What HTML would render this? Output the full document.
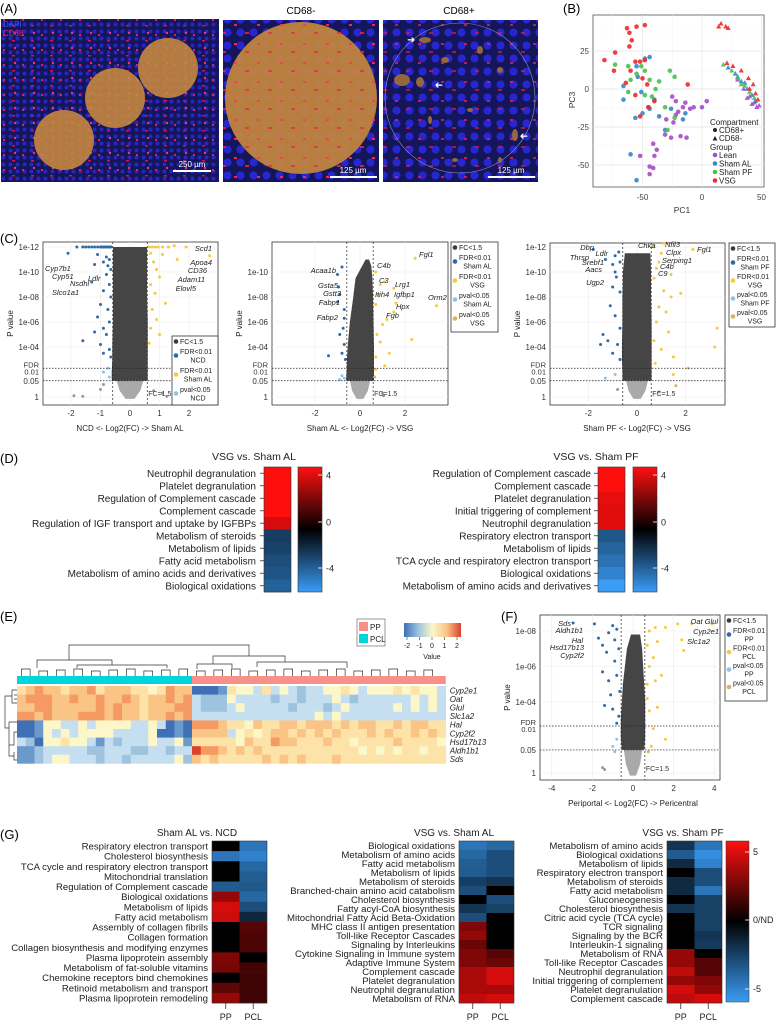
<!DOCTYPE html>
<html><head><meta charset="utf-8">
<style>
html,body{margin:0;padding:0;background:#fff;}
svg{display:block;font-family:"Liberation Sans",Arial,sans-serif;}
</style></head>
<body>
<svg id="fig" width="776" height="1023" viewBox="0 0 776 1023" xmlns="http://www.w3.org/2000/svg">
<defs>
<pattern id="nuc1" width="7" height="7" patternUnits="userSpaceOnUse"><circle cx="3.5" cy="3.5" r="2" fill="#2c2cd8"/></pattern>
<pattern id="red1" width="19" height="15" patternUnits="userSpaceOnUse"><rect x="3" y="4" width="2" height="2" fill="#e0205a"/><rect x="12" y="10" width="3" height="1.5" fill="#d01848"/><circle cx="15" cy="3" r="1.2" fill="#ff3060"/></pattern>
<pattern id="nuc2" width="13" height="13" patternUnits="userSpaceOnUse"><circle cx="6.5" cy="6.5" r="4" fill="#2a2ae6"/></pattern>
<pattern id="red2" width="23" height="19" patternUnits="userSpaceOnUse"><rect x="4" y="5" width="3" height="2" fill="#ff2050"/><rect x="15" y="13" width="4" height="2" fill="#e01848"/></pattern>
<linearGradient id="gradRB" x1="0" y1="0" x2="0" y2="1"><stop offset="0" stop-color="#ff1010"/><stop offset="0.5" stop-color="#000"/><stop offset="1" stop-color="#3a9cf5"/></linearGradient>
<linearGradient id="gradE" x1="0" y1="0" x2="1" y2="0"><stop offset="0" stop-color="#3f6fb5"/><stop offset="0.25" stop-color="#9dc3df"/><stop offset="0.5" stop-color="#fbf7c8"/><stop offset="0.75" stop-color="#fbc487"/><stop offset="1" stop-color="#d9432c"/></linearGradient>
</defs>

<!-- Panel A -->
<g>
<text x="0" y="13" font-size="13">(A)</text>
<text x="301" y="14" font-size="10" text-anchor="middle">CD68-</text>
<text x="459" y="14" font-size="10" text-anchor="middle">CD68+</text>
<g>
<rect x="1" y="19" width="218" height="163" fill="#15155a"/>
<rect x="1" y="19" width="218" height="163" fill="url(#nuc1)" opacity="0.8"/>
<rect x="1" y="19" width="218" height="163" fill="url(#red1)"/>
<circle cx="64" cy="140" r="30" fill="#c98a3c" opacity="0.88"/>
<circle cx="115" cy="98" r="30" fill="#c98a3c" opacity="0.88"/>
<circle cx="168" cy="68" r="30" fill="#c98a3c" opacity="0.88"/>
<text x="3" y="27" font-size="8" fill="#3050ff">DAPI</text>
<text x="3" y="36" font-size="8" fill="#e02070">CD68</text>
<line x1="173" y1="171" x2="211" y2="171" stroke="#fff" stroke-width="2"/>
<text x="192" y="167" font-size="8" fill="#fff" text-anchor="middle">250 µm</text>
</g>
<g>
<rect x="223" y="20" width="156" height="162" fill="#15155a"/>
<rect x="223" y="20" width="156" height="162" fill="url(#nuc2)" opacity="0.85"/>
<rect x="223" y="20" width="156" height="162" fill="url(#red2)"/>
<clipPath id="c2"><rect x="223" y="20" width="156" height="162"/></clipPath>
<circle cx="301" cy="98" r="76" fill="#c98a3c" opacity="0.9" clip-path="url(#c2)"/>
<rect x="223" y="20" width="156" height="162" fill="url(#red2)" opacity="0.6" clip-path="url(#c2)"/>
<line x1="330" y1="177" x2="377" y2="177" stroke="#fff" stroke-width="2"/>
<text x="353" y="173" font-size="8" fill="#fff" text-anchor="middle">125 µm</text>
</g>
<g>
<rect x="383" y="20" width="155" height="162" fill="#15155a"/>
<rect x="383" y="20" width="155" height="162" fill="url(#nuc2)" opacity="0.85"/>
<rect x="383" y="20" width="155" height="162" fill="url(#red2)" opacity="0.7"/>
<circle cx="460" cy="98" r="75" fill="none" stroke="#9090c0" stroke-width="0.6"/>
<g fill="#a07038" opacity="0.9">
<ellipse cx="425" cy="40" rx="6" ry="3"/><ellipse cx="402" cy="80" rx="8" ry="6"/><ellipse cx="420" cy="82" rx="4" ry="5"/><ellipse cx="445" cy="60" rx="4" ry="3"/><ellipse cx="480" cy="50" rx="3" ry="4"/><ellipse cx="500" cy="70" rx="3" ry="3"/><ellipse cx="515" cy="135" rx="3" ry="6"/><ellipse cx="470" cy="110" rx="3" ry="2"/><ellipse cx="430" cy="120" rx="2" ry="4"/><ellipse cx="455" cy="160" rx="3" ry="2"/><ellipse cx="500" cy="160" rx="2" ry="3"/>
</g>
<text x="407" y="43" font-size="10" fill="#fff">➜</text>
<text x="433" y="88" font-size="10" fill="#fff" transform="rotate(180 438 85)">➜</text>
<text x="518" y="139" font-size="10" fill="#fff" transform="rotate(180 523 136)">➜</text>
<line x1="488" y1="177" x2="535" y2="177" stroke="#fff" stroke-width="2"/>
<text x="511" y="173" font-size="8" fill="#fff" text-anchor="middle">125 µm</text>
</g>
</g>

<g id="gB"></g>
<g id="gC"></g>
<g id="gD"></g>
<g id="gE"></g>
<g id="gF"></g>
<g id="gG"></g>
</svg>

<script>
// ===================== DATA =====================
const pcaVsgPos = [[-63,40],[-55,41],[-48,42],[-61,37],[-59,32],[-61,28],[-73,24],[-82,19],[-74,12],[-56,18],[-48,19],[-60,12],[-64,4],[-46,3],[-56,-4],[-45,-12],[-12,3],[-52,-18],[-52,18],[-50,7],[-40,-8]];
const pcaVsgNeg = [[16,43],[20,41],[22,40],[14,41],[21,17],[26,15],[33,12],[39,7],[43,3],[45,-3],[47,-7],[40,0]];
const pcaShamAlPos = [[-48,20],[-44,21],[-55,15],[-54,8],[-66,2],[-66,-7],[-51,-2],[-45,-12],[-44,-13],[-50,-16],[-56,-19],[-14,-16],[-16,-20],[-26,-13],[-31,-27],[-60,-43],[-55,-60],[-40,-7],[-36,-18]];
const pcaShamAlNeg = [[22,14],[28,10],[33,5],[38,0],[42,-4],[45,-8],[30,8],[36,4]];
const pcaShamPfPos = [[-73,16],[-62,15],[-51,15],[-48,12],[-44,6],[-60,6],[-62,-2],[-48,-4],[-36,5],[-27,12],[-23,8],[-39,0],[-31,-12],[-29,-27],[-23,-19],[-55,10],[-42,-5]];
const pcaShamPfNeg = [[18,16],[25,12],[30,7],[36,2],[40,-2],[44,-6],[33,3]];
const pcaLeanPos = [[-25,-5],[-22,-8],[-14,-9],[-7,-12],[0,-12],[4,-8],[-16,-12],[-10,-13],[-20,-15],[-31,-30],[-26,-32],[-18,-31],[-13,-32],[-41,-36],[-38,-40],[-40,-44],[-44,-51],[-41,-52],[-44,-56],[-52,-44],[-22,-17],[-30,-20],[-24,-22]];
const pcaLeanNeg = [[30,6],[35,0],[40,-5],[44,-9],[46,-12],[48,-11],[42,-10],[38,-6]];

const c1Blue = [[-1.8,12],[-1.6,12],[-1.5,12],[-1.4,12],[-1.3,12],[-1.2,12],[-1.1,12],[-1.0,12],[-0.95,12],[-0.9,12],[-0.85,12],[-0.8,12],[-0.75,12],[-0.7,12],[-0.65,12],[-2.1,11.5],[-1.1,11.4],[-0.8,11.2],[-0.7,11],[-0.9,10.8],[-0.75,10.5],[-1.2,10.6],[-0.65,10.2],[-0.8,9.8],[-1.3,9.2],[-0.7,9],[-0.9,8.5],[-0.65,8],[-1.0,7.4],[-0.75,7],[-1.1,6.4],[-0.7,6],[-0.9,5.5],[-1.6,4.5],[-0.8,5],[-1.0,4.2],[-0.7,3.8],[-0.65,3.2],[-1.2,5.2],[-0.9,3.5]];
const c1Yellow = [[0.65,12],[0.75,12],[0.85,12],[0.95,12],[1.1,12],[1.3,12],[1.5,12.1],[1.9,12],[0.7,11.5],[1.1,11.4],[2.7,11.3],[1.6,11],[0.8,10.8],[0.9,10.2],[1.0,9.6],[0.7,9],[0.85,8.3],[1.2,7.5],[0.75,7],[0.9,6.2],[0.7,5.5],[1.0,5],[0.65,4.3]];
const c1LBlue = [[-0.9,2],[-0.7,1.6],[-0.75,2.3]];
const c1Tan = [];
const c1Gray = [[-1.9,0.1],[-1.6,0.05],[-1.0,0.6],[-0.9,1.0],[0.8,0.5],[1.1,0.3],[1.25,0.05]];
const c1EnvLevels = [1.3,2,3,4,6,8,10,12];
const c1EnvLeft = [-0.62,-0.62,-0.6,-0.6,-0.58,-0.58,-0.58,-0.58];
const c1EnvRight = [0.6,0.6,0.6,0.6,0.6,0.58,0.58,0.58];

const c2Blue = [[-1.0,9.8],[-0.95,8.8],[-0.8,10.4],[-0.9,8.2],[-1.0,7.6],[-0.7,7],[-0.75,5.5],[-0.9,5],[-0.7,4.2],[-0.8,3.5],[-1.4,3.3],[-0.65,3],[-0.7,6.3]];
const c2Yellow = [[2.45,11.1],[0.7,10],[0.9,9],[1.1,9.2],[1.5,8.7],[1.6,7.5],[3.4,7.3],[1.5,6.8],[1.0,5.8],[0.8,8.2],[0.7,7.4],[1.2,6.2],[0.75,5],[0.9,4.4],[2.3,4.6],[1.3,3.5],[0.7,3.2],[1.1,2.5],[0.7,2.2]];
const c2LBlue = [[-0.8,1.7],[-0.7,1.5],[-0.9,1.4]];
const c2Tan = [[0.65,1.6]];
const c2Gray = [[1.0,0.3],[1.05,0.1]];
const c2EnvLevels = [1.3,2,3,4,6,8,9.5,10.5,11];
const c2EnvLeft = [-0.62,-0.6,-0.58,-0.55,-0.45,-0.3,-0.2,0.1,0.25];
const c2EnvRight = [0.62,0.62,0.62,0.62,0.6,0.58,0.55,0.5,0.4];

const c3Blue = [[-1.8,11.8],[-1.3,11],[-0.9,11.3],[-1.0,10.6],[-0.9,10],[-1.0,8.8],[-0.75,11.6],[-0.7,10.8],[-0.85,9.6],[-0.7,8.4],[-1.4,5],[-1.2,4.5],[-0.8,4.2],[-1.0,3.5],[-0.7,3],[-1.1,7.3],[-0.9,6.5],[-0.7,5.5],[-1.5,4.2]];
const c3Yellow = [[2.3,11.8],[1.1,12.3],[0.7,12],[1.0,11.5],[0.9,10.8],[0.8,10.3],[0.7,9.5],[1.4,9.8],[3.3,5.5],[3.2,4],[2.1,2.3],[1.5,1.8],[1.1,8.5],[1.4,8],[1.8,8.3],[0.9,7.2],[1.2,6.8],[0.8,6],[1.3,5.2],[0.7,4.5],[1.0,3.8],[1.5,3.2],[0.75,2.7]];
const c3LBlue = [[-1.3,1.5],[-0.9,1.8]];
const c3Tan = [[1.6,0.9]];
const c3Gray = [[-0.8,0.6],[0.9,0.4]];
const c3EnvLevels = [1.3,2,3,4,6,8,10,11.5];
const c3EnvLeft = [-0.6,-0.6,-0.62,-0.62,-0.6,-0.6,-0.58,-0.5];
const c3EnvRight = [0.6,0.6,0.6,0.6,0.6,0.58,0.58,0.55];

const dLabels1 = ["Neutrophil degranulation","Platelet degranulation","Regulation of Complement cascade","Complement cascade","Regulation of IGF transport and uptake by IGFBPs","Metabolism of steroids","Metabolism of lipids","Fatty acid metabolism","Metabolism of amino acids and derivatives","Biological oxidations"];
const dValues1 = [5,5,5,5,4.2,-2,-2.1,-2.5,-2.7,-3.1];
const dLabels2 = ["Regulation of Complement cascade","Complement cascade","Platelet degranulation","Initial triggering of complement","Neutrophil degranulation","Respiratory electron transport","Metabolism of lipids","TCA cycle and respiratory electron transport","Biological oxidations","Metabolism of amino acids and derivatives"];
const dValues2 = [5,5,4.5,4.4,4.4,-2.8,-3.2,-3.7,-4.2,-5];

const eGenes = ["Cyp2e1","Oat","Glul","Slc1a2","Hal","Cyp2f2","Hsd17b13","Aldh1b1","Sds"];
const eRowsPCL = ["56766566756665545766","67776676676676566767","66776666676766566677","77676667776766566767","00144334344443343010","00143434444333340010","32044544313233343341","11233333223332233233","11234433323323333342"];
const eRowsPP = ["00015443534323344543444545443","32224333323323334323333334343","32223433333233323433333434343","33333333333333434333333333333","77765546556656665656655656655","66663454566565656555656556565","55555465576655565545555655554","87765656555555555554545455455","65655555656565556555555555555"];

const fBlue = [[-2.95,8.45],[-1.9,8.4],[-1.7,7.6],[-1.5,7.2],[-1.3,6.8],[-1.0,8.3],[-0.8,8.1],[-1.2,7.9],[-0.9,7.5],[-0.7,7],[-0.9,6.3],[-1.5,5.7],[-1.2,5.2],[-0.8,5.5],[-1.4,3.8],[-1.0,3.6],[-0.7,3.2],[-0.8,2.8],[-1.1,4.4],[-0.65,4.6]];
const fYellow = [[3.9,8.4],[2.9,8.4],[2.2,8.4],[1.6,8.2],[1.1,8.2],[0.8,8],[2.4,7.5],[2.5,6.9],[1.2,7.4],[0.7,7.2],[1.0,6.5],[0.8,6],[1.4,5.5],[1.1,5.2],[0.7,5],[1.2,3.7],[0.8,3.5],[1.0,2.5],[1.6,1.9],[0.9,1.5],[0.7,4.2]];
const fLBlue = [[-0.8,1.9],[-1.0,1.5],[-0.9,1.2]];
const fTan = [[0.75,1.2]];
const fGray = [[-1.5,0.3],[-1.4,0.2]];
const fEnvLevels = [1.3,2,3,4,5,6,7,7.8];
const fEnvLeft = [-0.55,-0.6,-0.6,-0.55,-0.5,-0.4,-0.3,-0.1];
const fEnvRight = [0.55,0.6,0.6,0.6,0.55,0.5,0.45,0.35];

const g1Labels = ["Respiratory electron transport","Cholesterol biosynthesis","TCA cycle and respiratory electron transport","Mitochondrial translation","Regulation of Complement cascade","Biological oxidations","Metabolism of lipids","Fatty acid metabolism","Assembly of collagen fibrils","Collagen formation","Collagen biosynthesis and modifying enzymes","Plasma lipoprotein assembly","Metabolism of fat-soluble vitamins","Chemokine receptors bind chemokines","Retinoid metabolism and transport","Plasma lipoprotein remodeling"];
const g1PP = [0,-4.5,0,0,-3.5,3.5,5,4.8,0,0,0,3,2.8,0,2.2,3.5];
const g1PCL = [-4.5,-5,-4,-3.6,-3.4,-4,-3,-1.5,2,1.8,1.8,0,1.6,1.5,1.5,1.5];
const g2Labels = ["Biological oxidations","Metabolism of amino acids","Fatty acid metabolism","Metabolism of lipids","Metabolism of steroids","Branched-chain amino acid catabolism","Cholesterol biosynthesis","Fatty acyl-CoA biosynthesis","Mitochondrial Fatty Acid Beta-Oxidation","MHC class II antigen presentation","Toll-like Receptor Cascades","Signaling by Interleukins","Cytokine Signaling in Immune system","Adaptive Immune System","Complement cascade","Platelet degranulation","Neutrophil degranulation","Metabolism of RNA"];
const g2PP = [-4.5,-4,-3.6,-3.5,-2.4,-3,0,-2,-3,3,3.5,2.5,3,3,4,4,4,4.5];
const g2PCL = [-4,-3,-3,-3,-2,0,-3,-2.5,0,0,0,0,2,2.5,5,5,4,5];
const g3Labels = ["Metabolism of amino acids","Biological oxidations","Metabolism of lipids","Respiratory electron transport","Metabolism of steroids","Fatty acid metabolism","Gluconeogenesis","Cholesterol biosynthesis","Citric acid cycle (TCA cycle)","TCR signaling","Signaling by the BCR","Interleukin-1 signaling","Metabolism of RNA","Toll-like Receptor Cascades","Neutrophil degranulation","Initial triggering of complement","Platelet degranulation","Complement cascade"];
const g3PP = [-2,-3.5,-1.6,0,-1.6,-1.6,0,-2,0,0,0,0,3.5,3.5,4.5,3.5,5,4.5];
const g3PCL = [-4.5,-5.5,-5,-3,-3,-4.5,-2.5,-2.5,-2.5,-2.5,-2,-2.2,0,2,2,3,3.5,5];

// ===================== HELPERS =====================
const NS = 'http://www.w3.org/2000/svg';
function mk(parent, tag, attrs, name) {
  const el = document.createElementNS(NS, tag);
  for (const k in attrs) el.setAttribute(k, attrs[k]);
  
  
  parent.appendChild(el);
  return el;
}
function txt(parent, x, y, s, size, name, extra) {
  const a = Object.assign({x: x, y: y, 'font-size': size}, extra || {});
  const el = mk(parent, 'text', a, name);
  el.textContent = s;
  return el;
}
function rbColor(v, max) {
  const t = Math.max(-1, Math.min(1, v / max));
  if (t >= 0) return `rgb(${Math.round(255*t)},${Math.round(14*t)},${Math.round(14*t)})`;
  const u = -t;
  return `rgb(${Math.round(58*u)},${Math.round(156*u)},${Math.round(245*u)})`;
}

// ===================== PANEL B =====================
(function(){
  const g = document.getElementById('gB');
  const X = v => 702 + 1.19 * v, Y = v => 89 - 1.52 * v;
  txt(g, 563, 13, '(B)', 13, 'panel-b-label');
  mk(g, 'rect', {x:593, y:15, width:171, height:172, fill:'#fff', stroke:'#555', 'stroke-width':0.8}, 'pca-frame');
  const xt = [-50, 0, 50], yt = [25, 0, -25, -50];
  [-75,-25,25].forEach(v => mk(g,'line',{x1:X(v),x2:X(v),y1:15,y2:187,stroke:'#f2f2f2','stroke-width':0.5},'minor-grid-x'));
  [37.5,12.5,-12.5,-37.5].forEach(v => mk(g,'line',{x1:593,x2:764,y1:Y(v),y2:Y(v),stroke:'#f2f2f2','stroke-width':0.5},'minor-grid-y'));
  xt.forEach(v => { mk(g,'line',{x1:X(v),x2:X(v),y1:15,y2:187,stroke:'#e4e4e4','stroke-width':0.7},'grid-x');
    txt(g, X(v), 200, String(v), 8, 'x-tick-label', {'text-anchor':'middle', fill:'#444'}); });
  yt.forEach(v => { mk(g,'line',{x1:593,x2:764,y1:Y(v),y2:Y(v),stroke:'#e4e4e4','stroke-width':0.7},'grid-y');
    txt(g, 589, Y(v)+3, String(v), 8, 'y-tick-label', {'text-anchor':'end', fill:'#444'}); });
  txt(g, 682, 213, 'PC1', 8.5, 'x-axis-title', {'text-anchor':'middle', fill:'#333'});
  txt(g, 575, 100, 'PC3', 8.5, 'y-axis-title', {'text-anchor':'middle', fill:'#333', transform:'rotate(-90 575 100)'});
  const cols = {lean:'#a64dc8', al:'#3a86c8', pf:'#4bbf4b', vsg:'#ee2a2a'};
  function circ(arr, c, nm){ arr.forEach(p => mk(g,'circle',{cx:X(p[0]),cy:Y(p[1]),r:2.3,fill:c,opacity:0.9},nm)); }
  function tri(arr, c, nm){ arr.forEach(p => { const x=X(p[0]), y=Y(p[1]);
    mk(g,'polygon',{points:`${x},${y-2.8} ${x-2.6},${y+1.8} ${x+2.6},${y+1.8}`,fill:c,opacity:0.9},nm); }); }
  circ(pcaLeanPos, cols.lean, 'point-lean-cd68pos'); tri(pcaLeanNeg, cols.lean, 'point-lean-cd68neg');
  circ(pcaShamAlPos, cols.al, 'point-shamal-cd68pos'); tri(pcaShamAlNeg, cols.al, 'point-shamal-cd68neg');
  circ(pcaShamPfPos, cols.pf, 'point-shampf-cd68pos'); tri(pcaShamPfNeg, cols.pf, 'point-shampf-cd68neg');
  circ(pcaVsgPos, cols.vsg, 'point-vsg-cd68pos'); tri(pcaVsgNeg, cols.vsg, 'point-vsg-cd68neg');
  txt(g, 710, 125, 'Compartment', 8, 'legend-title-compartment', {fill:'#222'});
  mk(g,'circle',{cx:715,cy:130,r:2,fill:'#222'},'legend-symbol-circle');
  txt(g, 719, 133, 'CD68+', 8, 'legend-entry-cd68pos', {fill:'#222'});
  mk(g,'polygon',{points:'715,136 712.6,140.5 717.4,140.5',fill:'#222'},'legend-symbol-triangle');
  txt(g, 719, 141, 'CD68-', 8, 'legend-entry-cd68neg', {fill:'#222'});
  txt(g, 710, 150, 'Group', 8, 'legend-title-group', {fill:'#222'});
  [['Lean',cols.lean,158],['Sham AL',cols.al,166.5],['Sham PF',cols.pf,175],['VSG',cols.vsg,183.5]].forEach(e => {
    mk(g,'circle',{cx:715,cy:e[2]-3,r:2.3,fill:e[1]},'legend-swatch');
    txt(g, 719, e[2], e[0], 8, 'legend-entry-group', {fill:'#222'});
  });
})();

// ===================== VOLCANO =====================
function volcano(g, o) {
  const X = v => o.x0 + o.kx * v, Y = v => o.y0 - o.ky * v;
  mk(g,'rect',{x:o.fx, y:o.fy, width:o.fw, height:o.fh, fill:'#fff', stroke:'#333', 'stroke-width':0.8}, o.id+'-frame');
  o.xticks.forEach(v => { mk(g,'line',{x1:X(v),x2:X(v),y1:o.fy,y2:o.fy+o.fh,stroke:'#ebebeb','stroke-width':0.6},'grid-x');
    txt(g, X(v), o.fy+o.fh+11, String(v), 8, 'x-tick-label', {'text-anchor':'middle', fill:'#333'}); });
  o.yticks.forEach((t,i) => { const v = o.ytickVals[i];
    mk(g,'line',{x1:o.fx,x2:o.fx+o.fw,y1:Y(v),y2:Y(v),stroke:'#ebebeb','stroke-width':0.6},'grid-y');
    txt(g, o.fx-4, Y(v)+3, t, 8, 'y-tick-label', {'text-anchor':'end', fill:'#333'}); });
  txt(g, o.fx-4, Y(o.fdr)-1, 'FDR', 7.5, 'y-tick-fdr', {'text-anchor':'end', fill:'#333'});
  txt(g, o.fx-4, Y(o.fdr)+6, '0.01', 7.5, 'y-tick-001', {'text-anchor':'end', fill:'#333'});
  mk(g,'path',{d:`M${X(-0.45)},${Y(1.3)} L${X(-0.35)},${Y(0.5)} L${X(-0.15)},${Y(-0.15)} L${X(0.15)},${Y(-0.15)} L${X(0.35)},${Y(0.5)} L${X(0.45)},${Y(1.3)} Z`, fill:'#a9a9a9'}, o.id+'-nonsig-cloud');
  let d = '';
  o.lev.forEach((l,i) => { d += (i ? 'L' : 'M') + X(o.left[i]) + ',' + Y(l) + ' '; });
  for (let i = o.lev.length - 1; i >= 0; i--) d += 'L' + X(o.right[i]) + ',' + Y(o.lev[i]) + ' ';
  mk(g,'path',{d: d + 'Z', fill:'#454545'}, o.id+'-fc-cloud');
  const pts = (arr, c, nm) => arr.forEach(p => mk(g,'circle',{cx:X(p[0]),cy:Y(p[1]),r:1.5,fill:c},nm));
  pts(o.gray,'#9a9a9a','point-nonsig'); pts(o.lblue,'#8cc3ea','point-pval-down'); pts(o.tan,'#d8b45a','point-pval-up');
  pts(o.blue,'#2e6aa8','point-fdr-down'); pts(o.yellow,'#f7c93c','point-fdr-up');
  mk(g,'line',{x1:X(-0.585),x2:X(-0.585),y1:o.fy,y2:o.fy+o.fh,stroke:'#222','stroke-width':0.7,'stroke-dasharray':'2,2'},'fc-threshold-left');
  mk(g,'line',{x1:X(0.585),x2:X(0.585),y1:o.fy,y2:o.fy+o.fh,stroke:'#222','stroke-width':0.7,'stroke-dasharray':'2,2'},'fc-threshold-right');
  mk(g,'line',{x1:o.fx,x2:o.fx+o.fw,y1:Y(o.fdr),y2:Y(o.fdr),stroke:'#222','stroke-width':0.7,'stroke-dasharray':'1.5,1.5'},'fdr-threshold');
  mk(g,'line',{x1:o.fx,x2:o.fx+o.fw,y1:Y(1.3),y2:Y(1.3),stroke:'#222','stroke-width':0.7,'stroke-dasharray':'1.5,1.5'},'pval-threshold');
  txt(g, X(0.585)+1, Y(0.1), 'FC=1.5', 7, 'fc-annotation', {fill:'#333'});
  txt(g, X(0), o.fy+o.fh+26, o.xtitle, 8, 'x-axis-title', {'text-anchor':'middle', fill:'#222'});
  txt(g, o.fx-30, o.fy+o.fh/2, 'P value', 8, 'y-axis-title', {'text-anchor':'middle', fill:'#222', transform:`rotate(-90 ${o.fx-30} ${o.fy+o.fh/2})`});
  o.labels.forEach(l => txt(g, l[0], l[1], l[2], 7.5, 'gene-label', {'font-style':'italic', fill:'#222', 'text-anchor': l[3] || 'start'}));
  const L = o.leg;
  mk(g,'rect',{x:L.x, y:L.y, width:L.w, height:L.h, fill:'#fff', stroke:'#333', 'stroke-width':0.8}, 'legend-box');
  const entries = [['#3c3c3c',['FC<1.5']],['#2e6aa8',['FDR<0.01',L.a]],['#f7c93c',['FDR<0.01',L.b]],['#8cc3ea',['pval<0.05',L.a]],['#d8b45a',['pval<0.05',L.b]]].slice(0, L.n);
  let yy = L.y + 8;
  entries.forEach((e,i) => {
    const lines = e[1];
    mk(g,'circle',{cx:L.x+4, cy:yy + (lines.length-1)*4 - 2.5, r:2.3, fill:e[0]}, 'legend-swatch');
    lines.forEach((s,j) => txt(g, j ? L.x+L.w/2+3 : L.x+8, yy + j*8.5, s, 7, 'legend-entry', {fill:'#222', 'text-anchor': j ? 'middle' : 'start'}));
    yy += i === 0 ? 10 : L.step;
  });
}

(function(){
  const g = document.getElementById('gC');
  txt(g, 0, 243, '(C)', 13, 'panel-c-label');
  const yL = ['1e-12','1e-10','1e-08','1e-06','1e-04','0.05','1'], yV = [12,10,8,6,4,1.3,0];
  volcano(g, {id:'volcano-shamal-ncd', fx:43, fy:242, fw:175, fh:163, x0:130, kx:29.5, y0:397, ky:12.5,
    xticks:[-2,-1,0,1,2], yticks:yL, ytickVals:yV, fdr:2.3, xtitle:'NCD <- Log2(FC) -> Sham AL',
    blue:c1Blue, yellow:c1Yellow, lblue:c1LBlue, tan:c1Tan, gray:c1Gray, lev:c1EnvLevels, left:c1EnvLeft, right:c1EnvRight,
    labels:[[212,251,'Scd1','end'],[212,265,'Apoa4','end'],[207,273,'CD36','end'],[205,282,'Adam11','end'],[196,291,'Elovl5','end'],[45,271,'Cyp7b1'],[52,279,'Cyp51'],[70,286,'Nsdhl'],[88,281,'Ldlr'],[52,295,'Slco1a1']],
    leg:{x:172, y:336, w:46, h:69, a:'NCD', b:'Sham AL', n:4, step:19}});
  volcano(g, {id:'volcano-vsg-shamal', fx:272, fy:242, fw:176, fh:163, x0:360, kx:22.5, y0:397, ky:12.5,
    xticks:[-2,0,2], yticks:['1e-10','1e-08','1e-06','1e-04','0.05','1'], ytickVals:[10,8,6,4,1.3,0], fdr:2.3, xtitle:'Sham AL <- Log2(FC) -> VSG',
    blue:c2Blue, yellow:c2Yellow, lblue:c2LBlue, tan:c2Tan, gray:c2Gray, lev:c2EnvLevels, left:c2EnvLeft, right:c2EnvRight,
    labels:[[419,257,'Fgl1'],[377,268,'C4b'],[336,273,'Acaa1b','end'],[379,283,'C3'],[395,287,'Lrg1'],[338,288,'Gsta5','end'],[341,296,'Gstt3','end'],[375,297,'Itih4'],[394,297,'Igfbp1'],[428,300,'Orm2'],[340,305,'Fabp1','end'],[396,309,'Hpx'],[386,318,'Fgb'],[338,320,'Fabp2','end']],
    leg:{x:451, y:242, w:47, h:90, a:'Sham AL', b:'VSG', n:5, step:19}});
  volcano(g, {id:'volcano-vsg-shampf', fx:550, fy:243, fw:175, fh:162, x0:637, kx:24.3, y0:397, ky:12.5,
    xticks:[-2,0,2], yticks:yL, ytickVals:yV, fdr:2.3, xtitle:'Sham PF <- Log2(FC) -> VSG',
    blue:c3Blue, yellow:c3Yellow, lblue:c3LBlue, tan:c3Tan, gray:c3Gray, lev:c3EnvLevels, left:c3EnvLeft, right:c3EnvRight,
    labels:[[594,250,'Dbp','end'],[589,260,'Thrsp','end'],[608,256,'Ldlr','end'],[604,265,'Srebf1','end'],[602,272,'Aacs','end'],[604,285,'Ugp2','end'],[638,248,'Chka'],[665,247,'Nfil3'],[666,255,'Clpx'],[662,263,'Serping1'],[697,252,'Fgl1'],[660,269,'C4b'],[658,276,'C9']],
    leg:{x:729, y:243, w:46, h:84, a:'Sham PF', b:'VSG', n:5, step:18}});
})();

// ===================== PANEL D =====================
(function(){
  const g = document.getElementById('gD');
  txt(g, 0, 463, '(D)', 13, 'panel-d-label');
  function block(labels, vals, hx, cbx, lx, title, tx, id){
    txt(g, tx, 460, title, 10.5, id+'-title', {'text-anchor':'middle', fill:'#222'});
    const y0 = 467, rh = 12.5;
    labels.forEach((l,i) => {
      mk(g,'rect',{x:hx, y:y0+i*rh, width:27, height:rh+0.3, fill:rbColor(vals[i],5)}, id+'-cell');
      mk(g,'line',{x1:hx-4,x2:hx,y1:y0+i*rh+rh/2,y2:y0+i*rh+rh/2,stroke:'#333','stroke-width':0.8},'row-tick');
      txt(g, lx, y0+i*rh+rh/2+3.5, l, 10, id+'-row-label', {'text-anchor':'end', fill:'#222'});
    });
    mk(g,'rect',{x:hx, y:y0, width:27, height:rh*10, fill:'none', stroke:'#333','stroke-width':0.6}, id+'-border');
    mk(g,'rect',{x:cbx, y:y0, width:24, height:rh*10, fill:'url(#gradRB)', stroke:'#333','stroke-width':0.6}, id+'-colorbar');
    [[4,475],[0,522],[-4,568]].forEach(t => {
      mk(g,'line',{x1:cbx+20,x2:cbx+24,y1:t[1],y2:t[1],stroke:'#fff','stroke-width':0.8},'colorbar-tick');
      txt(g, cbx+28, t[1]+3.5, String(t[0]), 9, 'colorbar-label', {fill:'#222'});
    });
  }
  block(dLabels1, dValues1, 264, 298, 256, 'VSG vs. Sham AL', 254, 'heatmap-vsg-shamal');
  block(dLabels2, dValues2, 598, 633, 591, 'VSG vs. Sham PF', 596, 'heatmap-vsg-shampf');
})();

// ===================== PANEL E =====================
(function(){
  const g = document.getElementById('gE');
  txt(g, 0, 621, '(E)', 13, 'panel-e-label');
  const pal = ['#3f6fb5','#6a9acb','#9dc3df','#c6dff0','#fbf7c8','#fde3a7','#fbc487','#f59a62','#d9432c'];
  const x0 = 17, cw = 8.75, y0 = 686, rh = 8.6;
  const nP = eRowsPCL[0].length, nQ = eRowsPP[0].length;
  mk(g,'rect',{x:x0, y:676, width:nP*cw, height:8, fill:'#00d5d9'}, 'annotation-pcl');
  mk(g,'rect',{x:x0+nP*cw, y:676, width:nQ*cw, height:8, fill:'#f8908a'}, 'annotation-pp');
  eGenes.forEach((gn,r) => {
    const row = eRowsPCL[r] + eRowsPP[r];
    for (let c = 0; c < row.length; c++) {
      mk(g,'rect',{x:x0+c*cw, y:y0+r*rh, width:cw+0.3, height:rh+0.3, fill:pal[+row[c]]}, 'heatmap-cell');
    }
    txt(g, x0+(nP+nQ)*cw+4, y0+r*rh+rh/2+3, gn, 8, 'gene-row-label', {'font-style':'italic', fill:'#222'});
  });
  const st = {stroke:'#333','stroke-width':0.7, fill:'none'};
  mk(g,'path',Object.assign({d:`M${x0+52},660 V645 H${x0+232} V656`}, st), 'dendrogram-root');
  mk(g,'path',Object.assign({d:`M${x0+20},668 V660 H${x0+95} V665 M${x0+95},665 H${x0+60} V668 M${x0+95},665 H${x0+150} V668`}, st), 'dendrogram-pcl');
  mk(g,'path',Object.assign({d:`M${x0+196},664 V656 H${x0+268} V662 M${x0+196},664 H${x0+180} V669 M${x0+196},664 H${x0+215} V668 M${x0+268},662 H${x0+240} V667 M${x0+268},662 H${x0+330} V668`}, st), 'dendrogram-pp');
  for (let c = 0; c + 1 < nP + nQ; c += 2) {
    const xa = x0 + c*cw + cw/2, xb = xa + cw;
    mk(g,'path',Object.assign({d:`M${xa},676 V${669+(c%3)} H${xb} V676`}, st), 'dendrogram-leaf');
  }
  mk(g,'path',Object.assign({d:`M17,690 H12 V703 H17 M17,695 H14 M17,699 H14 M12,696 H5 V728 H9 M9,722 V745 M9,722 H17 M9,745 H14 V732 H17 M14,752 V760 H17 M14,756 H9 V745`}, st), 'row-dendrogram');
  mk(g,'rect',{x:357, y:619, width:28, height:27, fill:'#fff', stroke:'#555','stroke-width':0.6}, 'annotation-legend-box');
  mk(g,'rect',{x:359, y:622, width:9, height:9, fill:'#f8908a'}, 'legend-swatch-pp');
  txt(g, 370, 630, 'PP', 8, 'legend-entry-pp', {fill:'#222'});
  mk(g,'rect',{x:359, y:634, width:9, height:9, fill:'#00d5d9'}, 'legend-swatch-pcl');
  txt(g, 370, 642, 'PCL', 8, 'legend-entry-pcl', {fill:'#222'});
  mk(g,'rect',{x:404, y:623, width:57, height:14, fill:'url(#gradE)'}, 'value-colorbar');
  [-2,-1,0,1,2].forEach((v,i) => {
    mk(g,'line',{x1:407+i*12.5,x2:407+i*12.5,y1:637,y2:640,stroke:'#333','stroke-width':0.6},'colorbar-tick');
    txt(g, 407+i*12.5, 648, String(v), 7, 'colorbar-label', {'text-anchor':'middle', fill:'#222'});
  });
  txt(g, 432, 659, 'Value', 7, 'colorbar-title', {'text-anchor':'middle', fill:'#222'});
})();

// ===================== PANEL F =====================
(function(){
  const g = document.getElementById('gF');
  txt(g, 501, 621, '(F)', 13, 'panel-f-label');
  volcano(g, {id:'volcano-zonation', fx:540, fy:615, fw:180, fh:165, x0:633, kx:20.3, y0:773, ky:17.75,
    xticks:[-4,-2,0,2,4], yticks:['1e-08','1e-06','1e-04','0.05','1'], ytickVals:[8,6,4,1.3,0], fdr:2.65, xtitle:'Periportal <- Log2(FC) -> Pericentral',
    blue:fBlue, yellow:fYellow, lblue:fLBlue, tan:fTan, gray:fGray, lev:fEnvLevels, left:fEnvLeft, right:fEnvRight,
    labels:[[571,626,'Sds','end'],[583,633,'Aldh1b1','end'],[583,643,'Hal','end'],[584,650,'Hsd17b13','end'],[584,658,'Cyp2f2','end'],[718,624,'Oat Glul','end'],[719,634,'Cyp2e1','end'],[710,644,'Slc1a2','end']],
    leg:{x:725, y:615, w:42, h:86, a:'PP', b:'PCL', n:5, step:17.5}});
})();

// ===================== PANEL G =====================
(function(){
  const g = document.getElementById('gG');
  txt(g, 0, 839, '(G)', 13, 'panel-g-label');
  function block(labels, pp, pcl, hx, lx, title, tx, id){
    txt(g, tx, 836, title, 10, id+'-title', {'text-anchor':'middle', fill:'#222'});
    const y0 = 841, rh = 162 / labels.length, cw = 27.5;
    labels.forEach((l,i) => {
      mk(g,'rect',{x:hx, y:y0+i*rh, width:cw+0.3, height:rh+0.3, fill:rbColor(pp[i],6)}, id+'-cell-pp');
      mk(g,'rect',{x:hx+cw, y:y0+i*rh, width:cw, height:rh+0.3, fill:rbColor(pcl[i],6)}, id+'-cell-pcl');
      txt(g, lx, y0+i*rh+rh/2+3.5, l, 9.6, id+'-row-label', {'text-anchor':'end', fill:'#222'});
    });
    mk(g,'rect',{x:hx, y:y0, width:2*cw, height:162, fill:'none', stroke:'#333','stroke-width':0.6}, id+'-border');
    mk(g,'line',{x1:hx+cw/2,x2:hx+cw/2,y1:1003,y2:1009,stroke:'#333','stroke-width':0.8},'col-tick');
    mk(g,'line',{x1:hx+1.5*cw,x2:hx+1.5*cw,y1:1003,y2:1009,stroke:'#333','stroke-width':0.8},'col-tick');
    txt(g, hx+cw/2, 1020, 'PP', 9, 'col-label-pp', {'text-anchor':'middle', fill:'#222'});
    txt(g, hx+1.5*cw, 1020, 'PCL', 9, 'col-label-pcl', {'text-anchor':'middle', fill:'#222'});
  }
  block(g1Labels, g1PP, g1PCL, 212, 208, 'Sham AL vs. NCD', 197, 'heatmap-shamal-ncd');
  block(g2Labels, g2PP, g2PCL, 459, 455, 'VSG vs. Sham AL', 454, 'heatmap-vsg-shamal-g');
  block(g3Labels, g3PP, g3PCL, 667, 663, 'VSG vs. Sham PF', 683, 'heatmap-vsg-shampf-g');
  mk(g,'rect',{x:726, y:841, width:23, height:161, fill:'url(#gradRB)', stroke:'#333','stroke-width':0.5}, 'g-colorbar');
  [['5',855],['0/ND',923],['-5',992]].forEach(t => {
    mk(g,'line',{x1:745,x2:749,y1:t[1]-3,y2:t[1]-3,stroke:'#fff','stroke-width':0.8},'colorbar-tick');
    txt(g, 753, t[1], t[0], 9, 'colorbar-label', {fill:'#222'});
  });
})();
</script>
</body></html>
